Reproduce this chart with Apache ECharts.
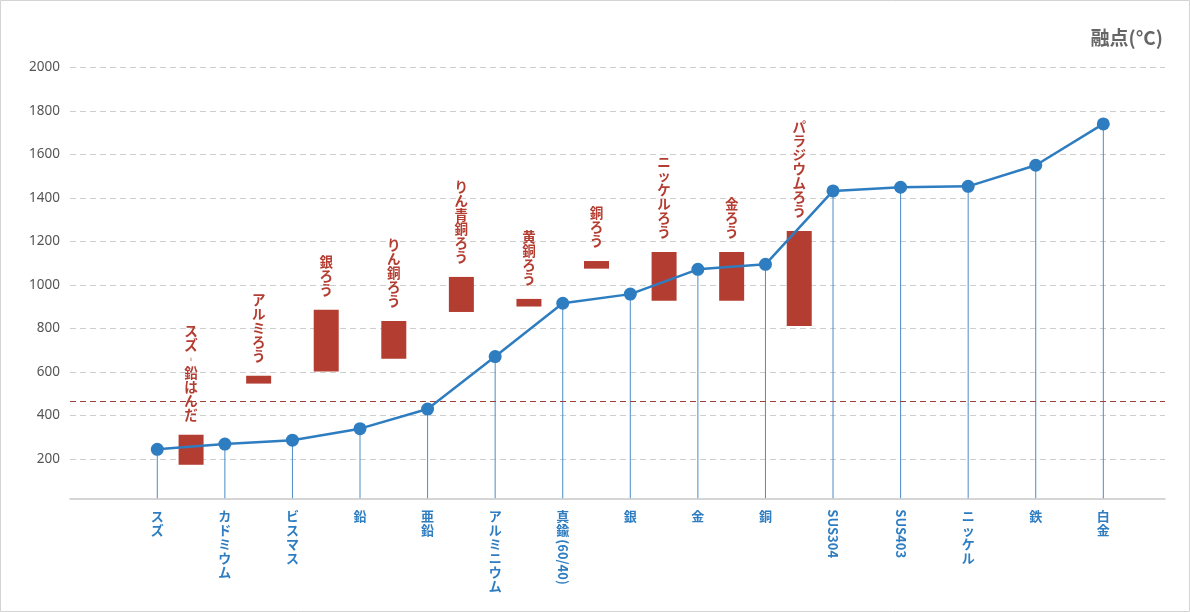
<!DOCTYPE html>
<html>
<head>
<meta charset="utf-8">
<script src="https://cdn.jsdelivr.net/npm/echarts@6/dist/echarts.min.js"></script>
<style>
html,body{margin:0;padding:0;background:#fff;}
#chart{width:1190px;height:612px;}
</style>
</head>
<body>
<div id="chart"></div>
<script>
// ---- data ----
const metals = ['スズ','カドミウム','ビスマス','鉛','亜鉛','アルミニウム','真鍮(60/40)','銀','金','銅','SUS304','SUS403','ニッケル','鉄','白金'];
const meltingPoints = [245, 269, 287, 340, 430, 671, 916, 958, 1072, 1095, 1432, 1449, 1453, 1550, 1740];
const brazeNames = ['スズ-鉛はんだ','アルミろう','銀ろう','りん銅ろう','りん青銅ろう','黄銅ろう','銅ろう','ニッケルろう','金ろう','パラジウムろう'];
const brazeLow  = [174, 547, 602, 661, 876, 901, 1075, 927, 927, 812];
const brazeHigh = [312, 583, 886, 835, 1037, 936, 1110, 1152, 1152, 1248];
const thresholdLine = 466;
const yMin = 20, yMax = 2000;
const unitLabel = '融点(°C)';

// ---- styles ----
const BLUE = '#2e7dc1';
const RED = '#b43d32';
const FONT = '"Noto Sans CJK JP", "Noto Sans", sans-serif';

function vertical(s){ return s.replace(/-/g,'︲').split('').join('\n'); }
function uprightLabel(s){ if(/^SUS/.test(s)) return ''; return vertical(s.split('(')[0]); }
function rotatedLabel(s){ return /^SUS/.test(s) ? s : ''; }
function parenLabel(s){ const i = s.indexOf('('); return i >= 0 ? s.slice(i) : ''; }

const gridTop = 67.3, gridBottom = 113.7;
const chart = echarts.init(document.getElementById('chart'));

const hiddenCat = {
  type:'category', gridIndex:1, data:metals, boundaryGap:true, position:'bottom',
  axisLine:{show:false}, axisTick:{show:false}, splitLine:{show:false}
};

chart.setOption({
  animation:false,
  textStyle:{fontFamily:FONT},
  title:{
    text:unitLabel, right:27, top:28, padding:0,
    textStyle:{fontSize:19, fontWeight:'bold', color:'#666', fontFamily:FONT}
  },
  graphic:[{
    type:'rect', silent:true, z:-1,
    shape:{x:0.5, y:0.5, width:1189, height:611},
    style:{fill:'none', stroke:'#d4d4d4', lineWidth:1}
  }],
  grid:[
    {left:70, right:25, top:gridTop, bottom:gridBottom, containLabel:false, outerBoundsMode:'none'},
    {left:123.5, right:52.9, top:gridTop, bottom:gridBottom, containLabel:false, outerBoundsMode:'none'}
  ],
  xAxis:[
    {type:'value', gridIndex:0, min:0, max:1, position:'bottom',
     axisLine:{show:true, onZero:false, lineStyle:{color:'#c8c8c8', width:1.5}},
     axisTick:{show:false}, axisLabel:{show:false}, splitLine:{show:false}},
    Object.assign({}, hiddenCat, {
      axisLabel:{interval:0, formatter:uprightLabel, margin:11, color:BLUE,
        fontSize:13, fontWeight:'bold', lineHeight:14, fontFamily:FONT}
    }),
    {type:'value', gridIndex:1, min:-0.5, max:metals.length-0.5, show:false, position:'bottom', splitLine:{show:false}},
    Object.assign({}, hiddenCat, {
      axisLabel:{interval:0, formatter:rotatedLabel, rotate:-90, margin:11, color:BLUE,
        fontSize:13, fontWeight:'bold', fontFamily:FONT}
    }),
    Object.assign({}, hiddenCat, {
      axisLabel:{interval:0, formatter:parenLabel, rotate:-90, margin:41, color:BLUE,
        fontSize:13, fontWeight:'bold', fontFamily:FONT}
    })
  ],
  yAxis:[
    {type:'value', gridIndex:0, min:yMin, max:yMax, splitNumber:10,
     axisLine:{show:false}, axisTick:{show:false},
     axisLabel:{showMinLabel:false, color:'#555', fontSize:13.5, margin:10,
       fontFamily:'"Noto Sans", sans-serif', formatter:function(v){ return String(v); }},
     splitLine:{show:true, showMinLine:false, lineStyle:{color:'#cdcdcd', type:[6,4], width:1}}},
    {type:'value', gridIndex:1, min:yMin, max:yMax, show:false, splitLine:{show:false}}
  ],
  series:[
    {
      type:'line', xAxisIndex:0, yAxisIndex:0, data:[], silent:true,
      markLine:{
        symbol:'none', silent:true, label:{show:false},
        lineStyle:{color:'#9c4038', type:[6,4], width:1},
        data:[{yAxis:thresholdLine}]
      }
    },
    {
      type:'bar', xAxisIndex:1, yAxisIndex:1, data:meltingPoints, barWidth:1,
      itemStyle:{color:'#4a8cc9'}, silent:true, z:1
    },
    {
      type:'custom', xAxisIndex:2, yAxisIndex:1,
      data:brazeLow.map((lo,i)=>[i+0.5, lo, brazeHigh[i]]),
      renderItem:function(params, api){
        const x = api.value(0), lo = api.value(1), hi = api.value(2);
        const pTop = api.coord([x, hi]);
        const pBot = api.coord([x, lo]);
        const w = 25;
        return {
          type:'group',
          children:[
            {type:'rect', shape:{x:pTop[0]-w/2, y:pTop[1], width:w, height:pBot[1]-pTop[1]},
             style:{fill:RED}},
            {type:'text', style:{
              text:vertical(brazeNames[params.dataIndex]),
              x:pTop[0], y:pTop[1]-13, align:'center', verticalAlign:'bottom',
              fill:RED, fontSize:13.5, fontWeight:'bold', lineHeight:14, fontFamily:FONT
            }}
          ]
        };
      },
      z:3
    },
    {
      type:'line', xAxisIndex:1, yAxisIndex:1, data:meltingPoints,
      symbol:'circle', symbolSize:13,
      lineStyle:{color:BLUE, width:2.5},
      itemStyle:{color:BLUE},
      z:4
    }
  ]
});
</script>
</body>
</html>
